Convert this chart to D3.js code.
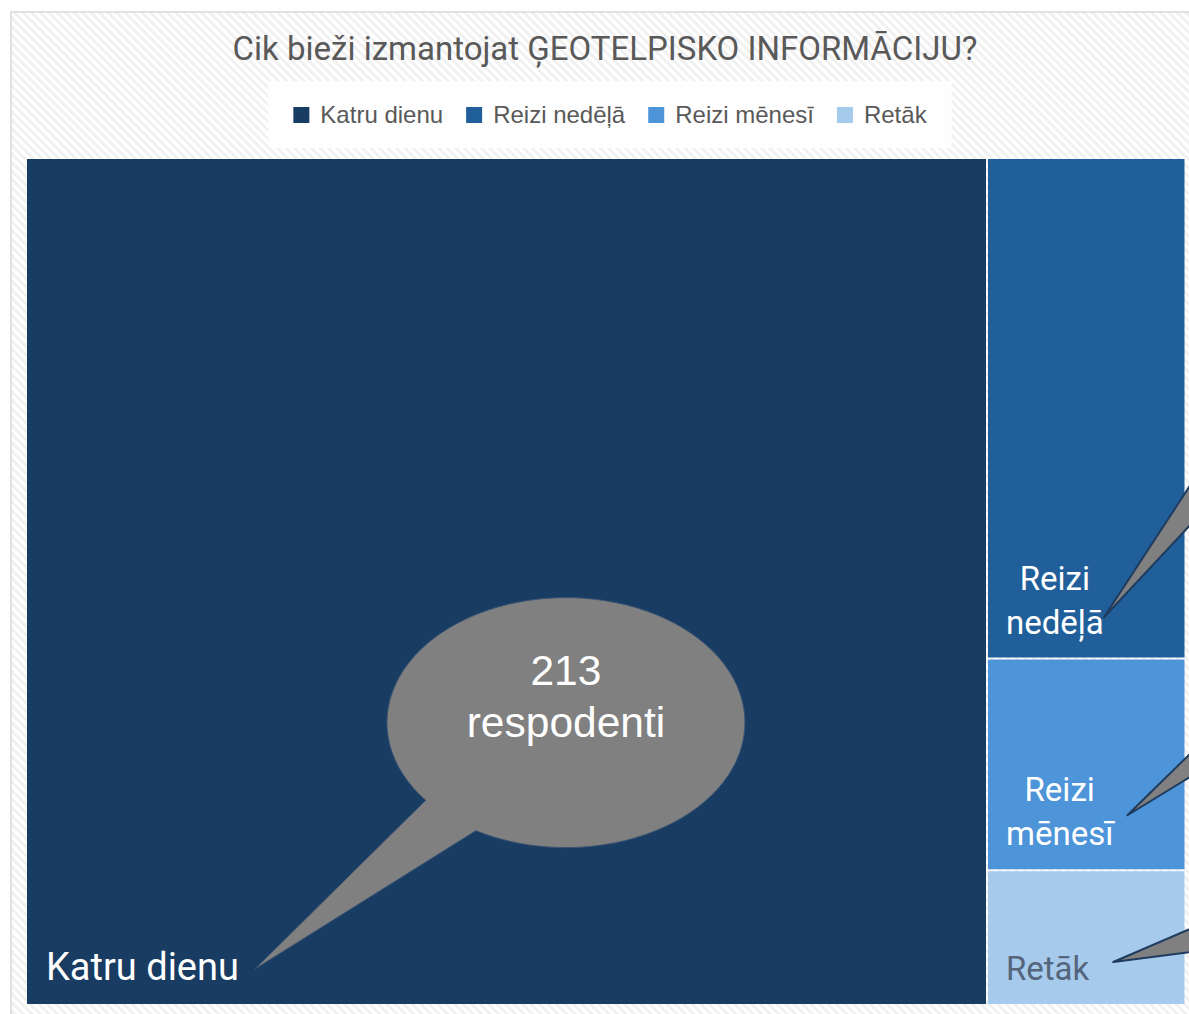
<!DOCTYPE html>
<html>
<head>
<meta charset="utf-8">
<script src="https://cdn.jsdelivr.net/npm/d3@7"></script>
<style>
body { margin: 0; background: #fff; }
svg { display: block; }
</style>
</head>
<body>
<svg id="chart" width="1189" height="1014"></svg>
<script>
// data (only 213 is printed, the rest comes from tile areas)
var categories = ["Katru dienu", "Reizi nedēļā", "Reizi mēnesī", "Retāk"];
var values = [213, 26, 11, 7];
var labelLines = [["Katru dienu"], ["Reizi", "nedēļā"], ["Reizi", "mēnesī"], ["Retāk"]];
var colors = ["#193c62", "#215f9a", "#4e94d8", "#a6caec"];
var labelColors = ["#ffffff", "#ffffff", "#ffffff", "#55657b"];
var title = "Cik bieži izmantojat ĢEOTELPISKO INFORMĀCIJU?";
var calloutLines = ["213", "respodenti"];

var svg = d3.select("#chart");
var W = 1189, H = 1014;

// hatched chart background
var defs = svg.append("defs");
var pat = defs.append("pattern")
    .attr("id", "hatch")
    .attr("width", 6).attr("height", 6)
    .attr("patternUnits", "userSpaceOnUse")
    .attr("patternTransform", "rotate(-45)");
pat.append("rect").attr("width", 6).attr("height", 6).attr("fill", "#ffffff");
pat.append("rect").attr("width", 3).attr("height", 6).attr("fill", "#f1f1f1");

svg.append("rect")
    .attr("x", 11).attr("y", 12)
    .attr("width", W + 40).attr("height", H + 40)
    .attr("fill", "url(#hatch)")
    .attr("stroke", "#d9d9d9")
    .attr("stroke-width", 1.5);

// title
svg.append("text")
    .attr("x", 605).attr("y", 60)
    .attr("text-anchor", "middle")
    .style("font-family", "Roboto, 'Liberation Sans', sans-serif")
    .style("font-size", "33px")
    .attr("fill", "#595959")
    .text(title);

// legend
var legend = svg.append("g");
var legendBox = legend.append("rect")
    .attr("y", 81).attr("height", 67)
    .attr("fill", "#fefefe");
var lx = 0;
var items = legend.selectAll("g.item")
    .data(categories)
    .enter().append("g").attr("class", "item");
items.append("rect")
    .attr("y", 107).attr("width", 16).attr("height", 16)
    .attr("fill", function(d, i) { return colors[i]; });
items.append("text")
    .attr("y", 123)
    .style("font-family", "'Liberation Sans', Arial, sans-serif")
    .style("font-size", "24px")
    .attr("fill", "#595959")
    .text(function(d) { return d; });
items.each(function() {
    var g = d3.select(this);
    var w = g.select("text").node().getComputedTextLength();
    g.select("rect").attr("x", lx);
    g.select("text").attr("x", lx + 27);
    lx += 27 + w + 23;
});
var legendW = lx - 23;
var legendX0 = 610 - legendW / 2;
items.attr("transform", "translate(" + legendX0 + ",0)");
legendBox.attr("x", legendX0 - 25).attr("width", legendW + 50);

// treemap
var root = d3.hierarchy({ children: categories.map(function(c, i) {
        return { name: c, value: values[i], idx: i };
    }) })
    .sum(function(d) { return d.value || 0; });

d3.treemap()
    .size([1157.5, 845])
    .paddingInner(2)
    .tile(d3.treemapSquarify)(root);

var plot = svg.append("g").attr("transform", "translate(27,159)");
var leaves = root.leaves();

plot.selectAll("rect.tile")
    .data(leaves)
    .enter().append("rect")
    .attr("class", "tile")
    .attr("x", function(d) { return d.x0; })
    .attr("y", function(d) { return d.y0; })
    .attr("width", function(d) { return d.x1 - d.x0; })
    .attr("height", function(d) { return d.y1 - d.y0; })
    .attr("fill", function(d) { return colors[d.data.idx]; });

// tile labels, block anchored at bottom-left of each tile
var labelEnd = [];
leaves.forEach(function(d) {
    var i = d.data.idx;
    var lines = labelLines[i];
    var size = i === 0 ? 38 : 33;
    var lh = 44;
    var t = plot.append("text")
        .style("font-family", "Roboto, 'Noto Sans', sans-serif")
        .style("font-size", size + "px")
        .attr("fill", labelColors[i]);
    var spans = lines.map(function(s, k) {
        return t.append("tspan")
            .attr("y", d.y1 - 24 - (lines.length - 1 - k) * lh)
            .text(s);
    });
    var maxW = d3.max(spans, function(s) { return s.node().getComputedTextLength(); });
    var left = d.x0 + (i === 0 ? 19 : 18);
    spans.forEach(function(s) {
        s.attr("x", left + maxW / 2).attr("text-anchor", "middle");
    });
    labelEnd[i] = { x: left + maxW, y: d.y1 - 24 };
});

// callouts
var calloutFill = "#808080", calloutStroke = "#1f3b5e";

// big bubble in the first tile
var big = leaves[0];
var cx = big.x0 + 0.562 * (big.x1 - big.x0);
var cy = big.y0 + 0.667 * (big.y1 - big.y0);
var rx = 179, ry = 125;
var a1 = 141.6 * Math.PI / 180, a2 = 120.2 * Math.PI / 180;
var p1 = [cx + rx * Math.cos(a1), cy + ry * Math.sin(a1)];
var p2 = [cx + rx * Math.cos(a2), cy + ry * Math.sin(a2)];
var tip = [labelEnd[0].x + 16, labelEnd[0].y - 11];
plot.append("path")
    .attr("d", "M" + p1 + " A" + rx + " " + ry + " 0 1 1 " + p2 + " L" + tip + " Z")
    .attr("fill", calloutFill)
    .attr("stroke", "#3a5474")
    .attr("stroke-width", 1);
var bt = plot.append("text")
    .attr("text-anchor", "middle")
    .style("font-family", "'Liberation Sans', Arial, sans-serif")
    .style("font-size", "42.5px")
    .attr("fill", "#ffffff");
calloutLines.forEach(function(s, k) {
    bt.append("tspan").attr("x", cx).attr("y", cy - 38 + k * 52).text(s);
});

// tails of the callouts whose bubbles sit outside the picture
var tails = [
    { idx: 1, dx: 0, dy: -16, s1: -1.53, s2: -1.07 },
    { idx: 2, dx: 14, dy: -30, s1: -0.98, s2: -0.61 },
    { idx: 3, dx: 24, dy: -18, s1: -0.43, s2: -0.13 }
];
plot.selectAll("path.tail")
    .data(tails)
    .enter().append("path")
    .attr("class", "tail")
    .attr("d", function(t) {
        var e = labelEnd[t.idx];
        var tx = e.x + t.dx, ty = e.y + t.dy;
        var far = 160;
        return "M" + tx + "," + ty +
            " L" + (tx + far) + "," + (ty + t.s1 * far) +
            " L" + (tx + far) + "," + (ty + t.s2 * far) + " Z";
    })
    .attr("fill", calloutFill)
    .attr("stroke", calloutStroke)
    .attr("stroke-width", 2)
    .attr("stroke-linejoin", "round");
</script>
</body>
</html>
